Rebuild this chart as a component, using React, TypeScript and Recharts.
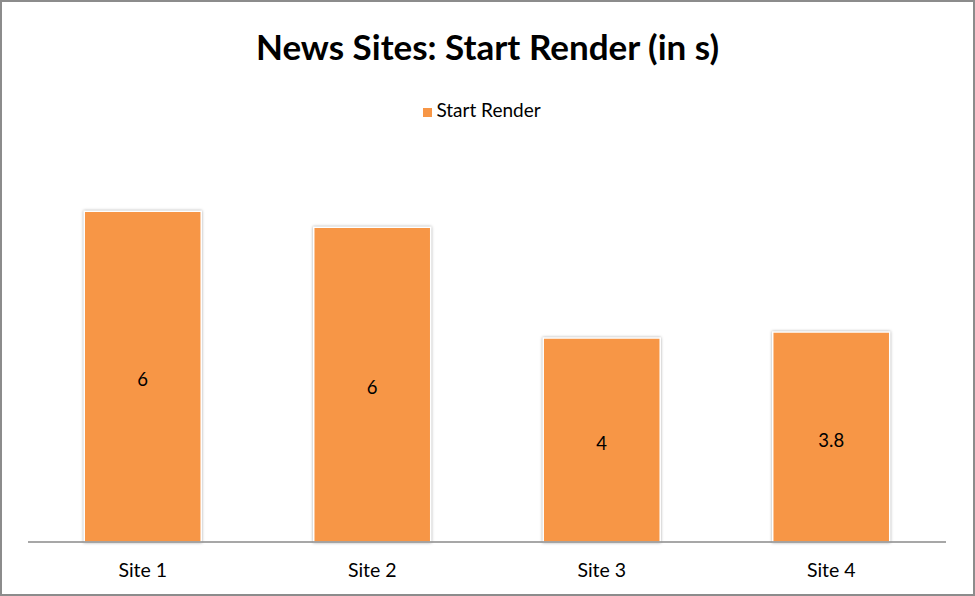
import React from "react"
import { BarChart, Bar, XAxis, YAxis, Legend, LabelList } from "recharts"

const sites = ["Site 1", "Site 2", "Site 3", "Site 4"]
// bar heights
const startRender = [6.0, 5.71, 3.7, 3.81]
// printed data labels
const labels = ["6", "6", "4", "3.8"]

const data = sites.map((name, i) => ({ name, value: startRender[i], label: labels[i] }))

const font = "Lato, 'Open Sans', sans-serif"

const App = () => {
  return (
    <div style={{ position: "absolute", left: 0, top: 0, width: 975, height: 596, background: "#fff" }}>
      <div
        style={{
          position: "absolute",
          left: 0,
          width: 975,
          textAlign: "center",
          top: 25,
          fontFamily: font,
          fontWeight: 700,
          fontSize: 35,
          color: "#000",
        }}
      >
        News Sites: Start Render (in s)
      </div>
      <BarChart
        width={975}
        height={596}
        data={data}
        margin={{ top: 133, right: 29, bottom: 0, left: 28 }}
        barCategoryGap="24.5%"
      >
        <XAxis
          dataKey="name"
          height={54}
          tickLine={false}
          tickMargin={15}
          axisLine={{ stroke: "#8a8a8a", strokeWidth: 1.5 }}
          tick={{ fill: "#000", fontSize: 19.5, fontFamily: font }}
        />
        <YAxis hide domain={[0, 7]} />
        <Legend
          verticalAlign="top"
          align="center"
          iconType="square"
          iconSize={9}
          wrapperStyle={{ top: 98, fontFamily: font, fontSize: 19 }}
          formatter={(v) => <span style={{ color: "#000" }}>{v}</span>}
        />
        <Bar
          dataKey="value"
          name="Start Render"
          fill="#F79646"
          stroke="#ffffff"
          strokeWidth={1.5}
          style={{ filter: "drop-shadow(0 0 1.5px rgba(0,0,0,0.35))" }}
          isAnimationActive={false}
        >
          <LabelList
            dataKey="label"
            position="center"
            fill="#000"
            dy={3}
            style={{ fontFamily: font, fontSize: 18.5 }}
          />
        </Bar>
      </BarChart>
      <div
        style={{
          position: "absolute",
          left: 0,
          top: 0,
          width: 975,
          height: 596,
          boxSizing: "border-box",
          border: "2px solid #8c8c8c",
          pointerEvents: "none",
        }}
      />
    </div>
  )
}

export default App
